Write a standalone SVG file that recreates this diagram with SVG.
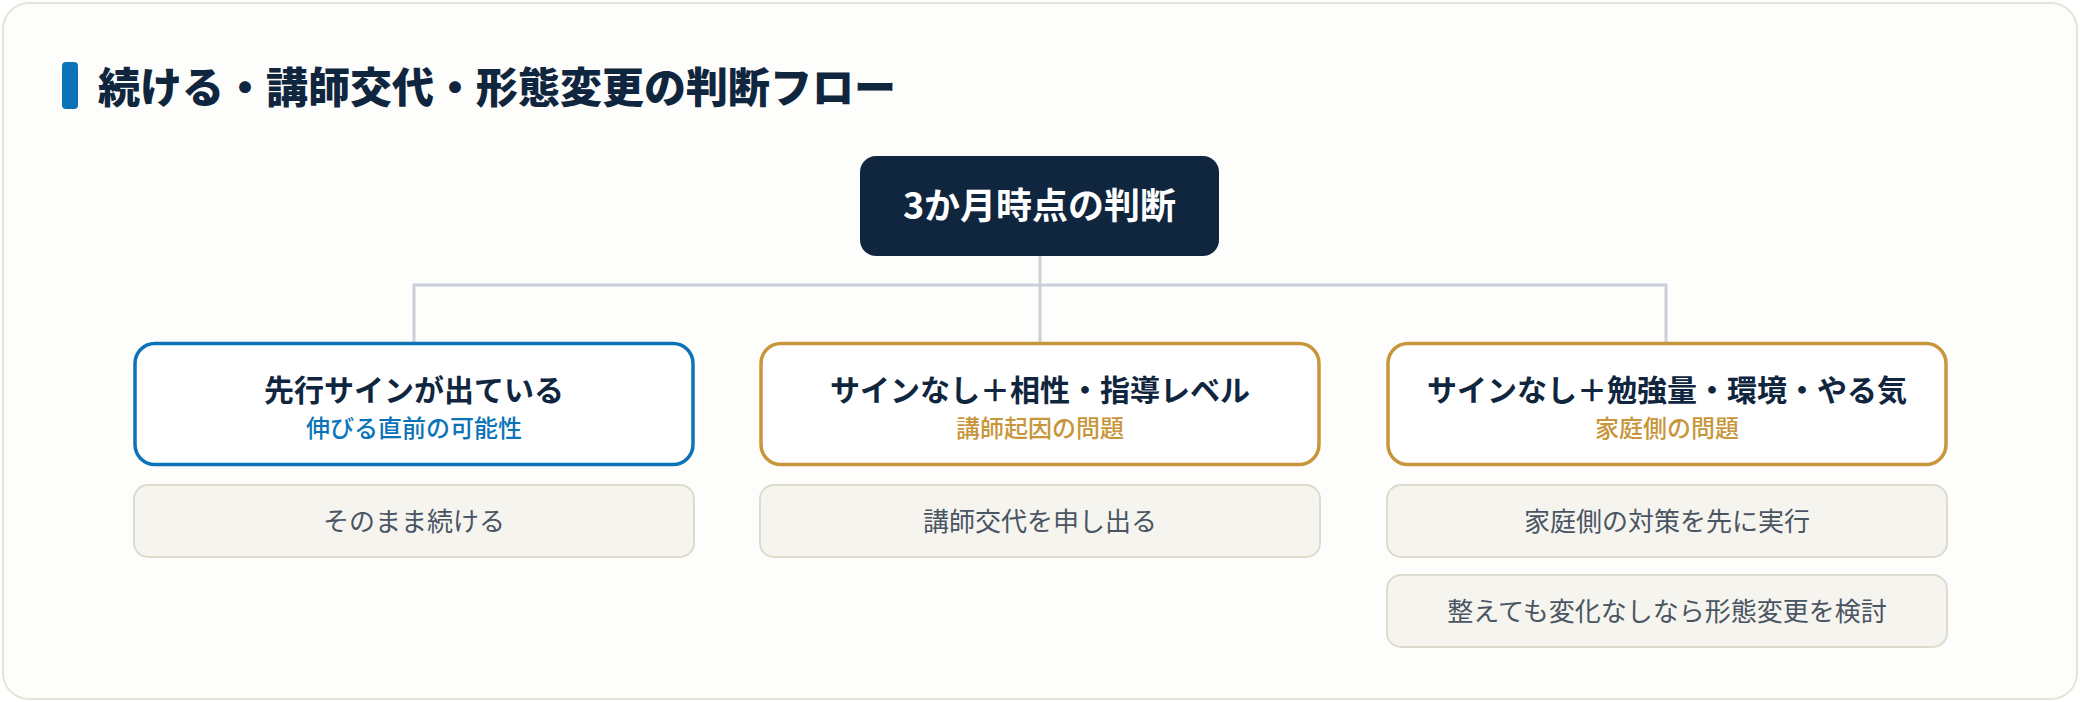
<svg xmlns="http://www.w3.org/2000/svg" width="2080" height="702" viewBox="0 0 2080 702">
<style>
text{font-family:"Noto Sans CJK JP","Noto Sans",sans-serif;text-anchor:middle}
.card{fill:#fdfdfb;stroke:#e6e3d8;stroke-width:2}
.title{font-size:42px;font-weight:900;fill:#10263f;text-anchor:start}
.root rect{fill:#10263f}
.root text{font-size:36px;font-weight:700;fill:#ffffff}
.hd rect{fill:#ffffff;stroke-width:3.5}
.hd .t{font-size:30px;font-weight:700;fill:#10263f}
.hd .s{font-size:24px;font-weight:500}
.blue rect{stroke:#0b74b8}
.blue .s{fill:#0b74b8}
.gold rect{stroke:#c8963a}
.gold .s{fill:#c8963a}
.res rect{fill:#f6f4ee;stroke:#dedacd;stroke-width:2}
.res text{font-size:26px;font-weight:400;fill:#4a5563}
.conn{fill:none;stroke:#c9d0da;stroke-width:3}
</style>
<rect class="card" x="3" y="3" width="2074" height="696" rx="26"/>
<g id="title">
<rect x="62" y="62" width="16" height="47" rx="4" fill="#0b74b8"/>
<text class="title" x="98" y="103">続ける・講師交代・形態変更の判断フロー</text>
</g>
<g id="connectors">
<path class="conn" d="M1040 256V285M414 342V285H1666V342M1040 285V342"/>
</g>
<g id="root" class="root">
<rect x="860" y="156" width="359" height="100" rx="16"/>
<text x="1039.5" y="219">3か月時点の判断</text>
</g>
<g id="branch1" class="hd blue">
<rect x="135" y="343.5" width="558" height="121" rx="20"/>
<text class="t" x="414" y="401">先行サインが出ている</text>
<text class="s" x="414" y="437">伸びる直前の可能性</text>
</g>
<g id="branch2" class="hd gold">
<rect x="761" y="343.5" width="558" height="121" rx="20"/>
<text class="t" x="1040" y="401">サインなし＋相性・指導レベル</text>
<text class="s" x="1040" y="437">講師起因の問題</text>
</g>
<g id="branch3" class="hd gold">
<rect x="1388" y="343.5" width="558" height="121" rx="20"/>
<text class="t" x="1667" y="401">サインなし＋勉強量・環境・やる気</text>
<text class="s" x="1667" y="437">家庭側の問題</text>
</g>
<g id="result1" class="res">
<rect x="134" y="485" width="560" height="72" rx="14"/>
<text x="414" y="531">そのまま続ける</text>
</g>
<g id="result2" class="res">
<rect x="760" y="485" width="560" height="72" rx="14"/>
<text x="1040" y="531">講師交代を申し出る</text>
</g>
<g id="result3" class="res">
<rect x="1387" y="485" width="560" height="72" rx="14"/>
<text x="1667" y="531">家庭側の対策を先に実行</text>
</g>
<g id="result4" class="res">
<rect x="1387" y="575" width="560" height="72" rx="14"/>
<text x="1667" y="621">整えても変化なしなら形態変更を検討</text>
</g>
</svg>
